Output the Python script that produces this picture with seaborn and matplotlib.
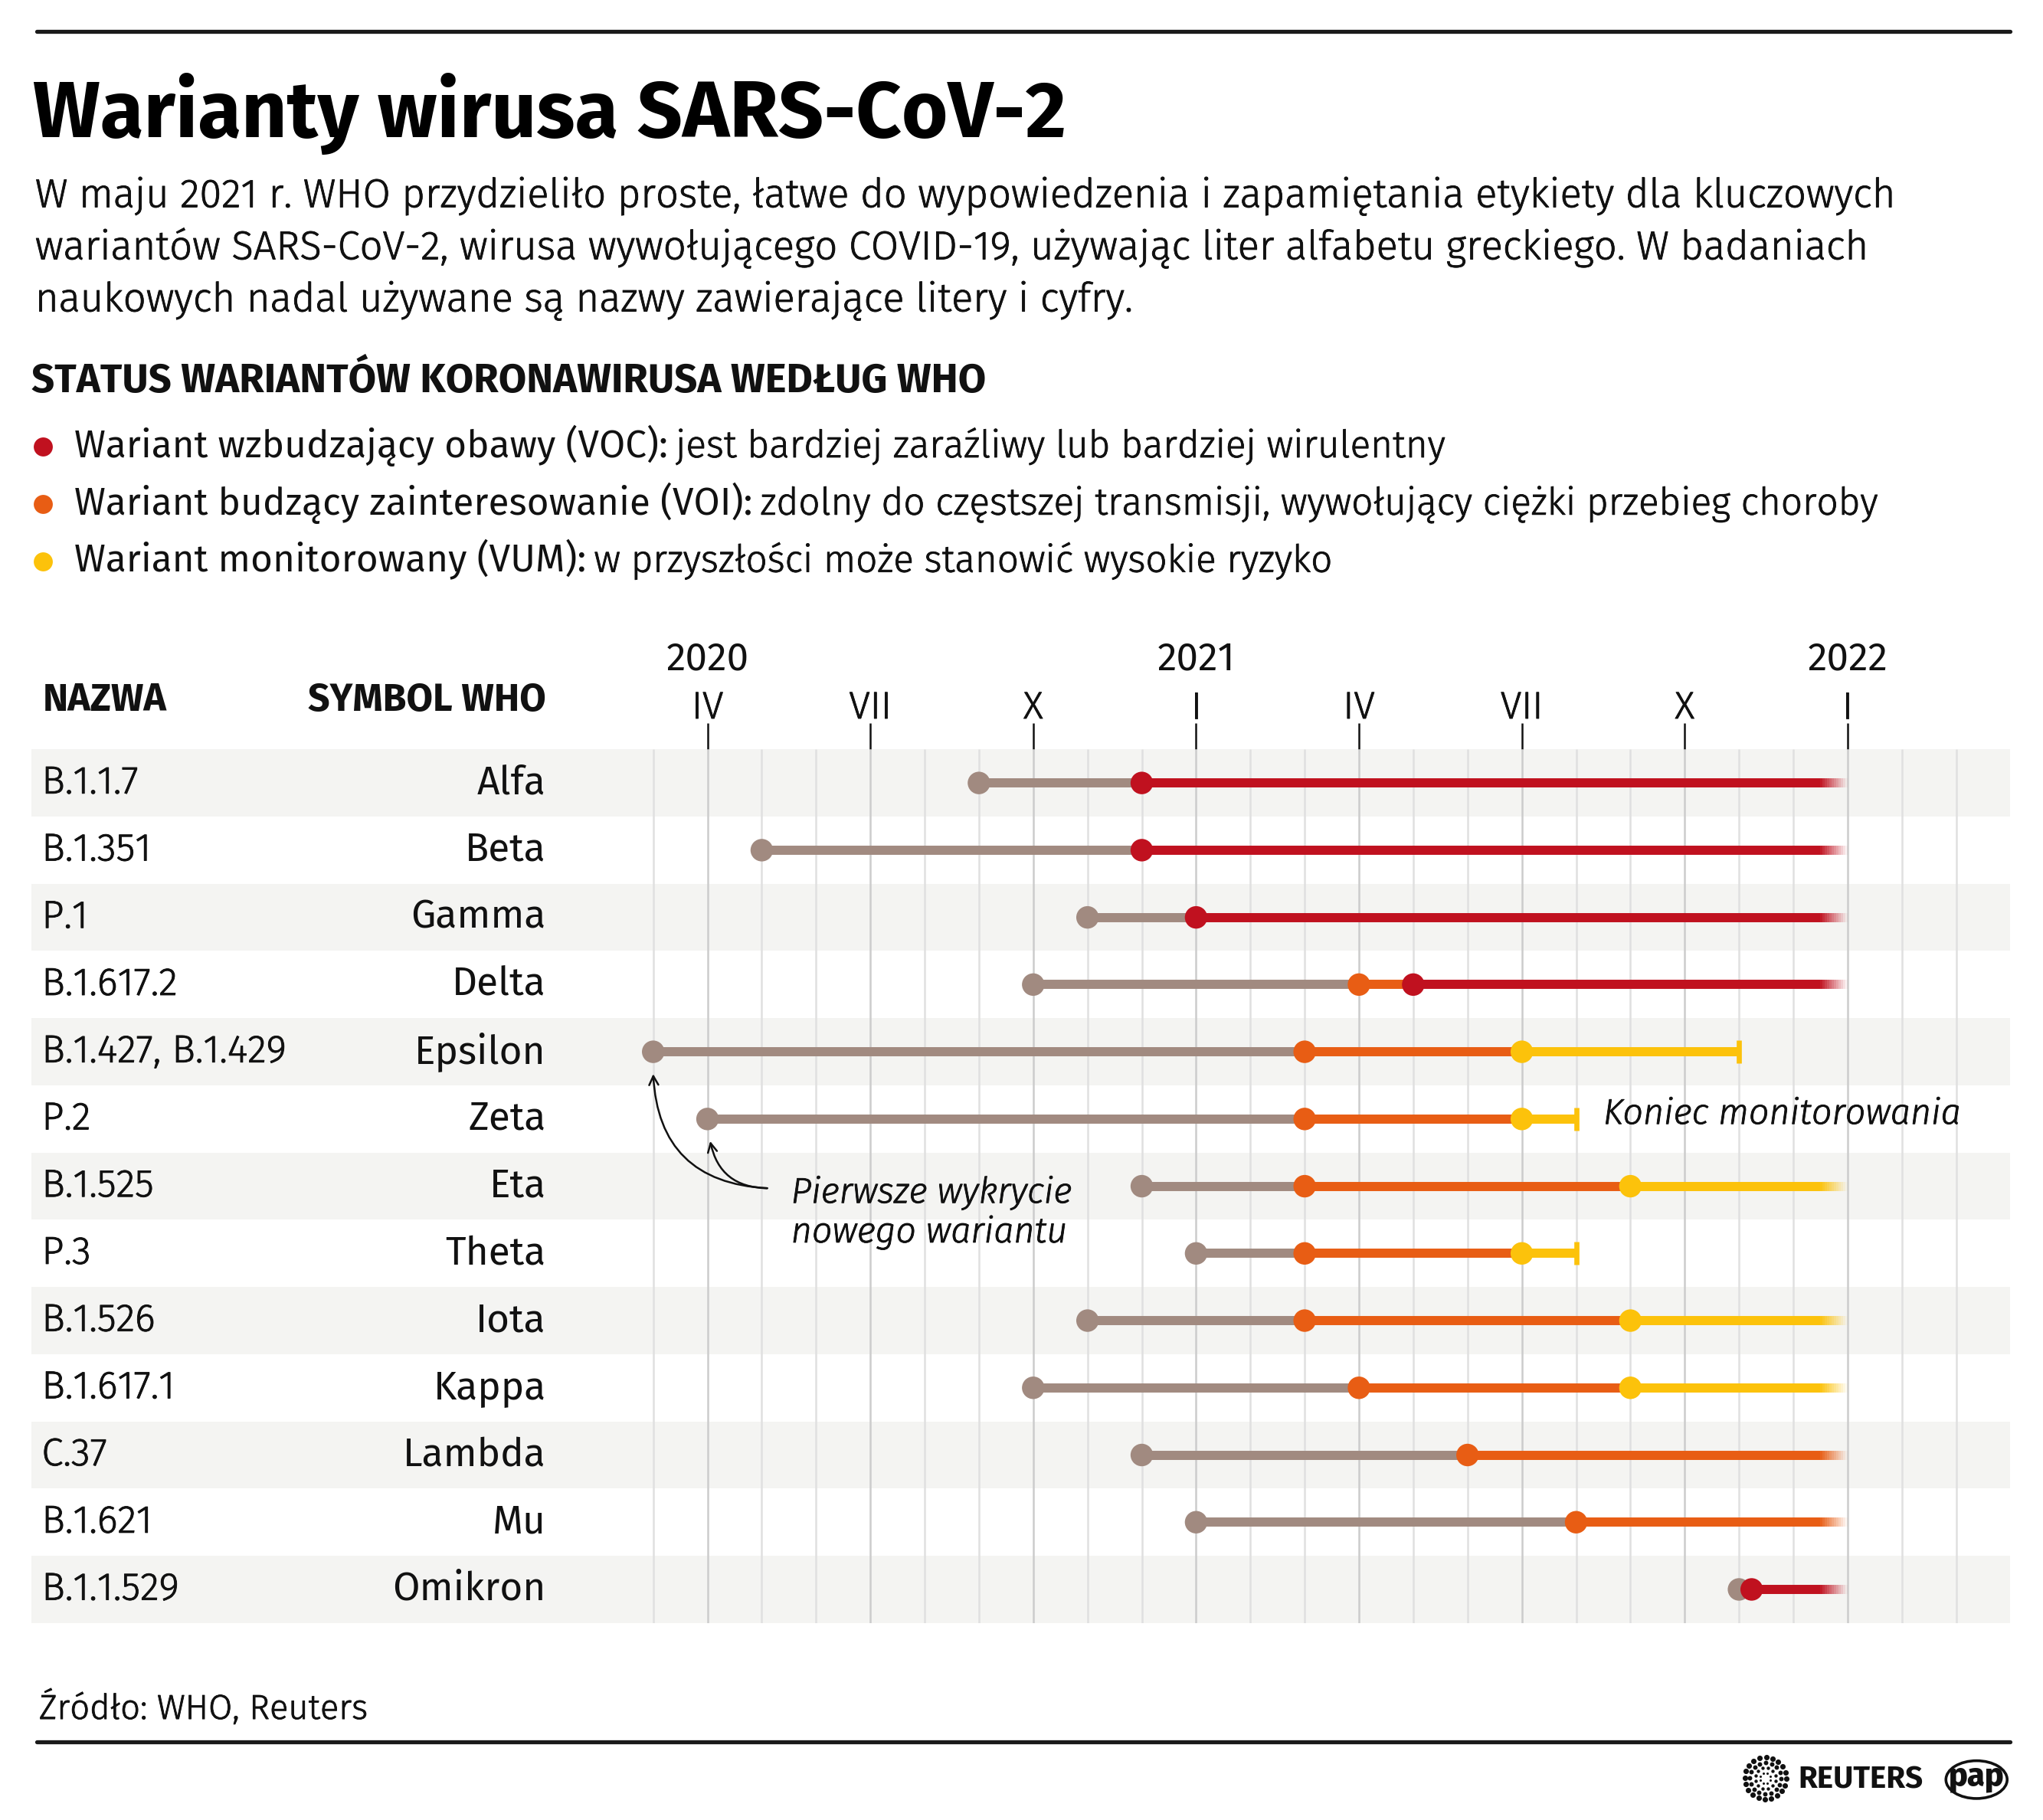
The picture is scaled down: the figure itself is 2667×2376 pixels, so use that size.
import matplotlib.pyplot as plt
import matplotlib.transforms as mtransforms
import matplotlib.patheffects as pe
from matplotlib.patches import Ellipse
import seaborn as sns
import pandas as pd
import numpy as np


# variants (rows, top to bottom)
names = ["B.1.1.7", "B.1.351", "P.1", "B.1.617.2", "B.1.427, B.1.429", "P.2",
         "B.1.525", "P.3", "B.1.526", "B.1.617.1", "C.37", "B.1.621", "B.1.1.529"]
symbols = ["Alfa", "Beta", "Gamma", "Delta", "Epsilon", "Zeta", "Eta", "Theta",
           "Iota", "Kappa", "Lambda", "Mu", "Omikron"]

# status dates read off the timeline (None = status never given)
first_detected = ["2020-09-01", "2020-05-01", "2020-11-01", "2020-10-01", "2020-03-01",
                  "2020-04-01", "2020-12-01", "2021-01-01", "2020-11-01", "2020-10-01",
                  "2020-12-01", "2021-01-01", "2021-11-01"]
voi_date = [None, None, None, "2021-04-01", "2021-03-01", "2021-03-01", "2021-03-01",
            "2021-03-01", "2021-03-01", "2021-04-01", "2021-06-01", "2021-08-01", None]
voc_date = ["2020-12-01", "2020-12-01", "2021-01-01", "2021-05-01", None, None, None,
            None, None, None, None, None, "2021-11-08"]
vum_date = [None, None, None, None, "2021-07-01", "2021-07-01", "2021-09-01",
            "2021-07-01", "2021-09-01", "2021-09-01", None, None, None]
monitoring_end = [None, None, None, None, "2021-11-01", "2021-08-01", None,
                  "2021-08-01", None, None, None, None, None]

# axis labels
month_ticks = [3, 6, 9, 12, 15, 18, 21, 24]
month_labels = ["IV", "VII", "X", "I", "IV", "VII", "X", "I"]
year_ticks = [3, 12, 24]
year_labels = ["2020", "2021", "2022"]
grid_months = list(range(2, 27))
chart_end = 24

COLORS = {"first": "#a18a80", "VOI": "#e85d14", "VOC": "#c0111f", "VUM": "#fcc20b"}
BAND = "#f4f4f2"
INK = "#111111"
LIGHT, REG = 300, 400
# light face is a touch thinner than the original's, thicken it slightly
THIN = [pe.withStroke(linewidth=0.3, foreground=INK)]
W, H = 1568, 1397  # layout units (pixels of the reference preview)


def to_month(s):
    # months since 1 Jan 2020
    if s is None:
        return None
    d = pd.Timestamp(s)
    return (d.year - 2020) * 12 + d.month - 1 + (d.day - 1) / d.days_in_month


# long-form table of status changes
rows = []
for i in range(len(names)):
    for status, dates in [("first", first_detected), ("VOI", voi_date),
                          ("VOC", voc_date), ("VUM", vum_date)]:
        m = to_month(dates[i])
        if m is not None:
            rows.append({"row": i, "month": m, "status": status})
events = pd.DataFrame(rows).sort_values(["row", "month"]).reset_index(drop=True)


sns.set_theme(style="white")
plt.rcParams['font.family'] = ['Fira Sans', 'Lato', 'DejaVu Sans']

fig = plt.figure(figsize=(13.335, 11.88), dpi=200)

# main timeline axes
top_px, bot_px = 575.2, 1245.8
ax = fig.add_axes([24 / W, 1 - bot_px / H, (1543 - 24) / W, (bot_px - top_px) / H])
px_per_month = 500 / 12
ax.set_xlim((24 - 418) / px_per_month, (1543 - 418) / px_per_month)

n = len(names)
for i in range(0, n, 2):
    ax.axhspan(i - 0.5, i + 0.5, color=BAND, lw=0, zorder=0)

for m in grid_months:
    c = "#cccccc" if m % 3 == 0 else "#e0e0e0"
    ax.vlines(m, -0.5, n - 0.5, color=c, lw=0.9, zorder=1)

LW = 4.3
for i in range(n):
    ev = events[events.row == i]
    xs = ev.month.tolist()
    cs = [COLORS[s] for s in ev.status]
    for k in range(len(xs) - 1):
        ax.plot([xs[k], xs[k + 1]], [i, i], color=cs[k], lw=LW,
                solid_capstyle='butt', zorder=2)
    end = to_month(monitoring_end[i])
    if end is not None:
        ax.plot([xs[-1], end], [i, i], color=cs[-1], lw=LW, solid_capstyle='butt', zorder=2)
        ax.plot([end], [i], marker='|', ms=10.5, mew=2.4, color=cs[-1], zorder=2)
    else:
        fade_start = chart_end - 0.5
        ax.plot([xs[-1], fade_start], [i, i], color=cs[-1], lw=LW,
                solid_capstyle='butt', zorder=2)
        steps = np.linspace(fade_start, chart_end, 13)
        for k in range(12):
            ax.plot(steps[k:k + 2], [i, i], color=cs[-1], lw=LW,
                    alpha=1 - (k + 0.5) / 12, solid_capstyle='butt', zorder=2)

sns.scatterplot(data=events, x="month", y="row", hue="status", palette=COLORS,
                s=112, linewidth=0, legend=False, ax=ax, zorder=4)

ax.set_ylim(n - 0.5, -0.5)
ax.set_xlabel("")
ax.set_ylabel("")
ax.set_yticks([])
for sp in ax.spines.values():
    sp.set_visible(False)
ax.xaxis.tick_top()
ax.set_xticks(month_ticks)
ax.set_xticklabels(month_labels, fontsize=18, fontweight=LIGHT, color=INK)
for lab in ax.get_xticklabels():
    lab.set_path_effects(THIN)
ax.tick_params(axis='x', top=True, bottom=False, labeltop=True, labelbottom=False,
               direction='out', length=12.3, width=0.9, color=INK, pad=-1.5)

# annotations
ax.annotate("", xy=(2.0, 4.33), xytext=(4.1, 6.03),
            arrowprops=dict(arrowstyle='->,head_length=0.35,head_width=0.18',
                            lw=0.9, color=INK, shrinkA=0, shrinkB=0,
                            connectionstyle='arc3,rad=-0.45'))
ax.annotate("", xy=(3.05, 5.33), xytext=(4.1, 6.03),
            arrowprops=dict(arrowstyle='->,head_length=0.35,head_width=0.18',
                            lw=0.9, color=INK, shrinkA=0, shrinkB=0,
                            connectionstyle='arc3,rad=-0.4'))
ax.text(4.54, 6.4, "Pierwsze wykrycie\nnowego wariantu", fontsize=16.8, fontweight=LIGHT,
        style='italic', va='center', ha='left', linespacing=1.2, color=INK, path_effects=THIN)
ax.text(19.5, 4.93, "Koniec monitorowania", fontsize=16.8, fontweight=LIGHT, style='italic',
        va='center', ha='left', color=INK, path_effects=THIN)

# decoration layer in preview-pixel units
deco = fig.add_axes([0, 0, 1, 1])
deco.set_xlim(0, W)
deco.set_ylim(H, 0)
deco.set_axis_off()

deco.plot([28, 1543], [24, 24], color='#1a1a1a', lw=1.9)
deco.plot([28, 1543], [1337, 1337], color='#1a1a1a', lw=1.9)

deco.text(25, 105, "Warianty wirusa SARS-CoV-2", fontsize=37.3, fontweight='bold',
          va='baseline', ha='left', color='#000000')
body = ["W maju 2021 r. WHO przydzieliło proste, łatwe do wypowiedzenia i zapamiętania etykiety dla kluczowych",
        "wariantów SARS-CoV-2, wirusa wywołującego COVID-19, używając liter alfabetu greckiego. W badaniach",
        "naukowych nadal używane są nazwy zawierające litery i cyfry."]
for k, line in enumerate(body):
    deco.text(27, 159 + 40 * k, line, fontsize=18.9, fontweight=LIGHT,
              va='baseline', ha='left', color=INK, path_effects=THIN)

deco.text(24, 301, "STATUS WARIANTÓW KORONAWIRUSA WEDŁUG WHO", fontsize=19,
          fontweight='bold', va='baseline', ha='left', color=INK)

legend_items = [("VOC", "Wariant wzbudzający obawy (VOC):", "jest bardziej zaraźliwy lub bardziej wirulentny"),
                ("VOI", "Wariant budzący zainteresowanie (VOI):", "zdolny do częstszej transmisji, wywołujący ciężki przebieg choroby"),
                ("VUM", "Wariant monitorowany (VUM):", "w przyszłości może stanowić wysokie ryzyko")]
fig.canvas.draw()
renderer = fig.canvas.get_renderer()
for k, (st, strong, rest) in enumerate(legend_items):
    y = 351 + 44 * k
    deco.scatter([33], [y - 8], s=80, color=COLORS[st], lw=0)
    t = deco.text(57, y, strong, fontsize=17.8, fontweight=REG, va='baseline', ha='left', color=INK)
    bb = t.get_window_extent(renderer=renderer)
    x_end = deco.transData.inverted().transform((bb.x1, bb.y0))[0]
    deco.text(x_end + 6, y, rest, fontsize=17.8, fontweight=LIGHT,
              va='baseline', ha='left', color=INK, path_effects=THIN)

# table header and year labels
deco.text(33, 538, "NAZWA", fontsize=18, fontweight='bold', va='center', ha='left', color=INK)
deco.text(419, 538, "SYMBOL WHO", fontsize=18, fontweight='bold', va='center', ha='right', color=INK)
year_tr = mtransforms.blended_transform_factory(ax.transData, deco.transData)
for m, lab in zip(year_ticks, year_labels):
    deco.text(m, 506, lab, transform=year_tr, fontsize=18.5, fontweight=REG,
              va='center', ha='center', color=INK)

row_tr = mtransforms.blended_transform_factory(deco.transData, ax.transData)
for i in range(n):
    deco.text(32, i, names[i], transform=row_tr, fontsize=18.3, fontweight=LIGHT,
              va='center', ha='left', color=INK, path_effects=THIN)
    deco.text(419, i, symbols[i], transform=row_tr, fontsize=18.5, fontweight=REG,
              va='center', ha='right', color=INK)

deco.text(30, 1311, "Źródło: WHO, Reuters", fontsize=16.3, fontweight=LIGHT,
          va='center', ha='left', color=INK, path_effects=THIN)

# logos
for r, cnt, sz in [(4, 8, 1.2), (8, 12, 2.5), (12, 16, 4.5), (16, 20, 6.5)]:
    ang = np.linspace(0, 2 * np.pi, cnt, endpoint=False) + r * 0.1
    deco.scatter(1355 + r * np.cos(ang), 1365 + r * np.sin(ang), s=sz, color=INK, lw=0)
deco.text(1380, 1366, "REUTERS", fontsize=14.5, fontweight='bold', va='center', ha='left',
          color=INK)
deco.add_patch(Ellipse((1517, 1366), 47, 29, fill=False, lw=1.3, ec=INK))
deco.text(1517, 1364, "pap", fontsize=15, fontweight='heavy', va='center', ha='center',
          color=INK)

fig.savefig("out.png", dpi=200, facecolor='white')
